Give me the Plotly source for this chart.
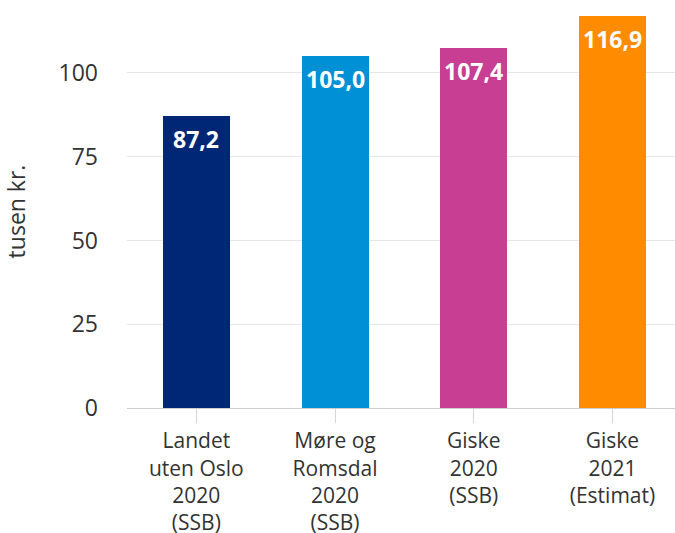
import plotly.graph_objects as go

# Data
categories = [
    "Landet<br>uten Oslo<br>2020<br>(SSB)",
    "Møre og<br>Romsdal<br>2020<br>(SSB)",
    "Giske<br>2020<br>(SSB)",
    "Giske<br>2021<br>(Estimat)",
]
values = [87.2, 105.0, 107.4, 116.9]
value_labels = ["87,2", "105,0", "107,4", "116,9"]
bar_colors = ["#002776", "#0090d6", "#c73e93", "#ff8c00"]
y_ticks = [0, 25, 50, 75, 100]

FONT = "Open Sans"
TEXT_COLOR = "#333333"

fig = go.Figure()

fig.add_trace(
    go.Bar(
        x=list(range(len(categories))),
        y=values,
        marker_color=bar_colors,
        marker_line_width=0,
        width=0.483,
        showlegend=False,
        hoverinfo="skip",
    )
)

# value labels inside the top of each bar
for i, (v, lab) in enumerate(zip(values, value_labels)):
    fig.add_annotation(
        x=i, y=v, text=f"<b>{lab}</b>",
        showarrow=False, yanchor="top", yshift=-5,
        font=dict(family=FONT, size=23, color="white"),
    )

fig.update_layout(
    width=675,
    height=533,
    margin=dict(l=127, r=0, t=15, b=125),
    plot_bgcolor="white",
    paper_bgcolor="white",
    font=dict(family=FONT, size=23, color=TEXT_COLOR),
    bargap=0,
)

fig.update_xaxes(
    range=[-0.5, 3.451],
    tickvals=list(range(len(categories))),
    ticktext=categories,
    ticks="outside",
    ticklen=14,
    tickcolor="#ccd6eb",
    tickwidth=1,
    showline=True,
    linecolor="#cccccc",
    linewidth=1,
    showgrid=False,
    tickfont=dict(family=FONT, size=21, color=TEXT_COLOR),
    automargin=False,
    fixedrange=True,
)

fig.update_yaxes(
    range=[0, 117.3],
    tickvals=y_ticks,
    showgrid=True,
    gridcolor="#e6e6e6",
    gridwidth=1,
    zeroline=False,
    ticklabelstandoff=28,
    tickfont=dict(family=FONT, size=23, color=TEXT_COLOR),
    title=dict(text="tusen kr.", font=dict(family=FONT, size=23, color=TEXT_COLOR), standoff=26),
    automargin=False,
    fixedrange=True,
)

# page body has a default 8px margin; drop it so the figure fills the window
fig.write_html(
    "out.html",
    config={"displayModeBar": False},
    post_script="document.body.style.margin='0';document.body.style.overflow='hidden';",
)
